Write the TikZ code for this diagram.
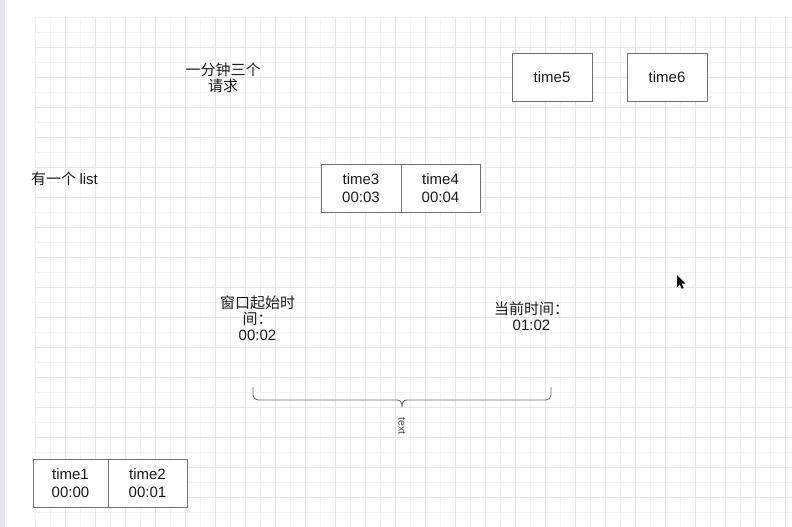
\documentclass[tikz,border=0pt]{standalone}
\usepackage{fontspec}
\setmainfont{Liberation Sans}
\newfontfamily\cjk{Noto Sans CJK SC}
\definecolor{minorgrid}{HTML}{F4F4F4}
\definecolor{majorgrid}{HTML}{E7E7E7}
\definecolor{boxgray}{HTML}{707070}
\definecolor{stripgray}{HTML}{E6E6EC}
\definecolor{ink}{HTML}{1A1A1A}
\begin{document}
\begin{tikzpicture}[x=1pt,y=-1pt,
  cell/.style={draw=boxgray, line width=0.9pt, fill=white, minimum height=48pt,
    inner sep=0pt, align=center, text=ink, font=\fontsize{15}{17.5}\selectfont},
  lbl/.style={align=center, inner sep=0pt, text=ink, font=\fontsize{15}{16}\selectfont},
  bracepath/.style={draw=boxgray, line width=0.9pt, rounded corners=5pt},
  minorline/.style={draw=minorgrid, line width=0.8pt},
  majorline/.style={draw=majorgrid, line width=0.9pt}]
\useasboundingbox (0,0) rectangle (792,527);
\fill[white] (0,0) rectangle (792,527);
\fill[stripgray] (0,0) rectangle (5,527);

% background grid: fine lines every 15, heavier every 30
\foreach \x in {35,50,...,792} \draw[minorline] (\x,17) -- (\x,527);
\foreach \y in {17,32,...,527} \draw[minorline] (35,\y) -- (792,\y);
\foreach \x in {65,95,...,792} \draw[majorline] (\x,17) -- (\x,527);
\foreach \y in {47,77,...,527} \draw[majorline] (35,\y) -- (792,\y);

% labels
\node[lbl] (rate) at (223,78) {\cjk 一分钟三个\\\cjk 请求};
\node[lbl, anchor=west] (list) at (31,179) {\cjk 有一个\ \rmfamily list};
\node[lbl] (winstart) at (257.5,318.5) {\cjk 窗口起始时\\\cjk 间：\\00:02};
\node[lbl] (now) at (531.5,316.5) {\cjk 当前时间：\\01:02};

% request cells
\node[cell, minimum width=80pt] (t5) at (552,77) {time5};
\node[cell, minimum width=80pt] (t6) at (667,77) {time6};
\node[cell, minimum width=80pt] (t3) at (361,188) {time3\\00:03};
\node[cell, minimum width=79pt] (t4) at (440.5,188) {time4\\00:04};
\node[cell, minimum width=75pt] (t1) at (70.5,483) {time1\\00:00};
\node[cell, minimum width=79pt] (t2) at (147.5,483) {time2\\00:01};

% curly bracket under the window
\coordinate (bl) at (253,387);
\coordinate (br) at (551,387);
\coordinate (tip) at (402,407);
\draw[bracepath] (bl) -- (253,400) -- (397,400);
\draw[draw=boxgray, line width=0.9pt] (397,400) .. controls (400.5,400) and (402,402) .. (tip)
  .. controls (402,402) and (403.5,400) .. (407,400);
\draw[bracepath] (407,400) -- (551,400) -- (br);
\node[text=ink!80, font=\fontsize{10.5}{12}\selectfont, rotate=-90, inner sep=0pt] (bracelbl) at (402,426) {text};

% mouse pointer
\fill[black] (677,275) -- (677,287) -- (679.8,284.4) -- (681.8,288.8) -- (683.6,288) -- (681.6,283.6) -- (685.4,283.6) -- cycle;
\end{tikzpicture}
\end{document}
